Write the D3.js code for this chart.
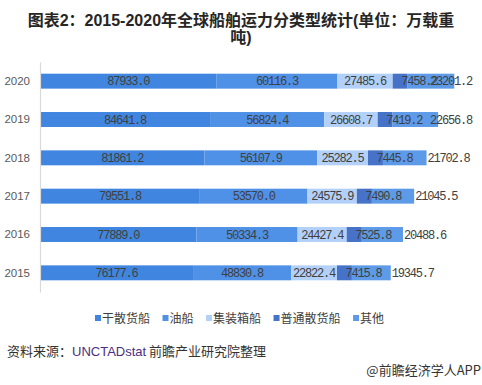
<!DOCTYPE html>
<html><head><meta charset="utf-8">
<script src="https://cdn.jsdelivr.net/npm/d3@7/dist/d3.min.js"></script>
<style>
html,body{margin:0;padding:0;background:#fff;}
svg{display:block;}
</style></head>
<body>
<script>
const years = ["2020","2019","2018","2017","2016","2015"];
const seriesNames = ["干散货船","油船","集装箱船","普通散货船","其他"];
const dryBulk   = [87933.0, 84641.8, 81861.2, 79551.8, 77889.0, 76177.6];
const oil       = [60116.3, 56824.4, 56107.9, 53570.0, 50334.3, 48830.8];
const container = [27485.6, 26608.7, 25282.5, 24575.9, 24427.4, 22822.4];
const general   = [7458.2, 7419.2, 7445.8, 7490.8, 7525.8, 7415.8];
const other     = [23201.2, 22656.8, 21702.8, 21045.5, 20488.6, 19345.7];
const colors = ["#4086e0","#4f91e6","#b3d1f8","#4673c8","#5d9be9"];

const W = 482, H = 385;
const svg = d3.select("body").append("svg").attr("width", W).attr("height", H);

const seriesVals = [dryBulk, oil, container, general, other];
const rows = years.map((y, i) => {
  const o = {year: y};
  seriesNames.forEach((s, k) => o[s] = seriesVals[k][i]);
  return o;
});
const stacked = d3.stack().keys(seriesNames)(rows);

const x = d3.scaleLinear().domain([0, 220000]).range([40, 482]);
const y = d3.scaleBand().domain(years).range([62, 292]).paddingInner(0.61).paddingOuter(0.305);
const plotRight = 472;

// Title
const title = svg.append("text").attr("text-anchor","middle")
  .attr("font-family","'Liberation Sans','Noto Sans CJK SC',sans-serif")
  .attr("font-weight","bold").attr("font-size","16px").attr("fill","#262626");
title.append("tspan").attr("x",241).attr("y",26).text("图表2：2015-2020年全球船舶运力分类型统计(单位：万载重");
title.append("tspan").attr("x",241).attr("y",43).text("吨)");

// Bars
const g = svg.append("g");
stacked.forEach((layer, k) => {
  g.selectAll(null).data(layer).enter().append("rect")
    .attr("x", d => x(d[0]))
    .attr("y", d => y(d.data.year))
    .attr("width", d => x(d[1]) - x(d[0]))
    .attr("height", y.bandwidth())
    .attr("fill", colors[k]);
});

// Axis (vertical line + year labels)
const axis = d3.axisLeft(y).tickSize(0).tickPadding(10);
const ag = svg.append("g").attr("transform","translate(40,0)").call(axis);
ag.select(".domain").attr("stroke","#d9d9d9").attr("stroke-width",1.2);
ag.selectAll("text").attr("font-family","'Liberation Sans',sans-serif")
  .attr("font-size","11.5px").attr("fill","#595959");

// Labels
const lab = svg.append("g").attr("font-family","'Liberation Mono',monospace")
  .attr("font-size","12px").attr("letter-spacing","-1.2px").attr("fill","#404040");
stacked.forEach((layer, k) => {
  layer.forEach(d => {
    const v = d[1] - d[0];
    const cy = y(d.data.year) + y.bandwidth()/2 + 4;
    const t = lab.append("text").attr("y", cy).text(v.toFixed(1));
    if (k < 3) {
      t.attr("x", (x(d[0]) + x(d[1]))/2).attr("text-anchor","middle");
    } else if (k === 3) {
      t.attr("x", x(d[0]) + 8.5).attr("text-anchor","start");
    } else {
      const w = t.node().getComputedTextLength();
      t.attr("x", Math.min(x(d[1]) + 1, plotRight - w)).attr("text-anchor","start");
    }
  });
});

// Legend
const leg = svg.append("g").attr("font-family","'Noto Sans CJK SC',sans-serif")
  .attr("font-size","12px").attr("fill","#404040");
let lx = 95;
seriesNames.forEach((s, k) => {
  leg.append("rect").attr("x", lx).attr("y", 315).attr("width", 6).attr("height", 6).attr("fill", colors[k]);
  const t = leg.append("text").attr("x", lx + 7).attr("y", 322.5).text(s);
  lx += 7 + t.node().getComputedTextLength() + 12.5;
});

// Source
const src = svg.append("text").attr("x", 7).attr("y", 356)
  .attr("font-family","'Noto Sans CJK SC',sans-serif").attr("font-size","13px").attr("fill","#333");
src.append("tspan").text("资料来源：");
src.append("tspan").attr("fill","#4a2f82").attr("font-family","'Liberation Sans',sans-serif").text("UNCTADstat");
src.append("tspan").text(" 前瞻产业研究院整理");

svg.append("text").attr("x", 481).attr("y", 375).attr("text-anchor","end")
  .attr("font-family","'Noto Sans CJK SC',sans-serif").attr("font-size","13px").attr("fill","#333")
  .text("@前瞻经济学人APP");
</script>
</body></html>
